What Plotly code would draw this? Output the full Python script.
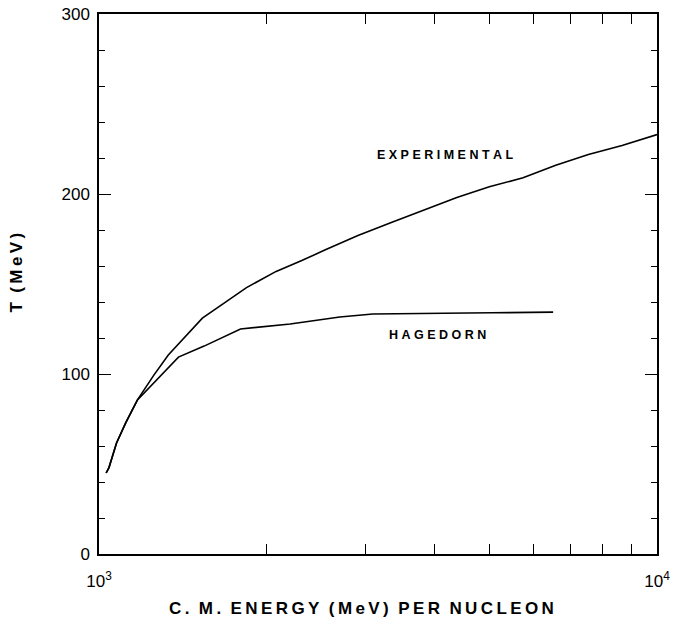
import math
import plotly.graph_objects as go

# Data
exp_E = [1030, 1042, 1075, 1117, 1172, 1254, 1331, 1420, 1532, 1668, 1838, 2077,
         2309, 2545, 2911, 3332, 3826, 4378, 5006, 5754, 6585, 7534, 8657, 10000]
exp_T = [45, 48, 61.7, 73, 85.6, 99.4, 110.6, 120, 131, 139, 148, 157,
         163, 169, 177, 184, 191, 198, 204, 209, 216, 222, 227, 233]

hag_E = [1030, 1042, 1075, 1117, 1172, 1388, 1543, 1793, 2201, 2701, 3095, 3863, 5050, 6514]
hag_T = [45, 48, 61.7, 73, 85.6, 109.4, 115.5, 125, 127.8, 131.7, 133.3, 133.5, 134, 134.4]

x_tickvals = [1000, 10000]
x_ticktext = ["10<sup>3</sup>", "10<sup>4</sup>"]
x_minor = [2000, 3000, 4000, 5000, 6000, 7000, 8000, 9000]
y_tickvals = [0, 100, 200, 300]

labels = {"EXPERIMENTAL": (4170, 221.5), "HAGEDORN": (4050, 121.7)}

x_title = "C. M. ENERGY (MeV) PER NUCLEON"
y_title = "T (MeV)"


def spaced(s, sep="\u2009", wsep="\u00a0\u00a0"):
    return wsep.join(sep.join(w) for w in s.split(" "))


fig = go.Figure()
fig.add_trace(go.Scatter(x=exp_E, y=exp_T, mode="lines",
                         line=dict(color="black", width=1.6), showlegend=False))
fig.add_trace(go.Scatter(x=hag_E, y=hag_T, mode="lines",
                         line=dict(color="black", width=1.6), showlegend=False))

for txt, (ex, ty) in labels.items():
    fig.add_annotation(x=math.log10(ex), y=ty, xref="x", yref="y",
                       text=spaced(txt, "\u00a0"), showarrow=False,
                       font=dict(family="Liberation Sans", size=12.5, color="black", weight="bold"))

tickfont = dict(family="Liberation Sans", size=17, color="black")
titlefont = dict(family="Liberation Sans", size=17, color="black", weight="bold")

# axis titles as annotations for precise placement
fig.add_annotation(x=0.471, y=-0.1, xref="paper", yref="paper", text=spaced(x_title),
                   showarrow=False, xanchor="center", yanchor="middle", font=titlefont)
fig.add_annotation(x=-0.148, y=0.522, xref="paper", yref="paper",
                   text="T\u00a0\u00a0(\u2009M\u2009e\u2009V\u2009)", textangle=-90,
                   showarrow=False, xanchor="center", yanchor="middle", font=titlefont)

fig.update_xaxes(type="log", range=[3, 4], tickvals=x_tickvals, ticktext=x_ticktext,
                 ticks="inside", ticklen=0, showline=True, linecolor="black", linewidth=1.5,
                 mirror="ticks", showgrid=False, zeroline=False, tickfont=tickfont,
                 ticklabelstandoff=11, automargin=False,
                 minor=dict(tickvals=x_minor, ticks="inside", ticklen=10,
                            tickcolor="black", tickwidth=1.3, showgrid=False))
fig.update_yaxes(range=[0, 300], tickvals=y_tickvals, ticks="inside", ticklen=12,
                 tickcolor="black", tickwidth=1.3,
                 showline=True, linecolor="black", linewidth=1.5, mirror="ticks",
                 showgrid=False, zeroline=False, tickfont=tickfont, ticklabelstandoff=4,
                 automargin=False,
                 minor=dict(dtick=20, ticks="inside", ticklen=6, tickcolor="black",
                            tickwidth=1.3, showgrid=False))

fig.update_layout(width=679, height=620, margin=dict(l=99, r=22, t=14, b=66),
                  paper_bgcolor="white", plot_bgcolor="white")

fig.write_html("out.html")
